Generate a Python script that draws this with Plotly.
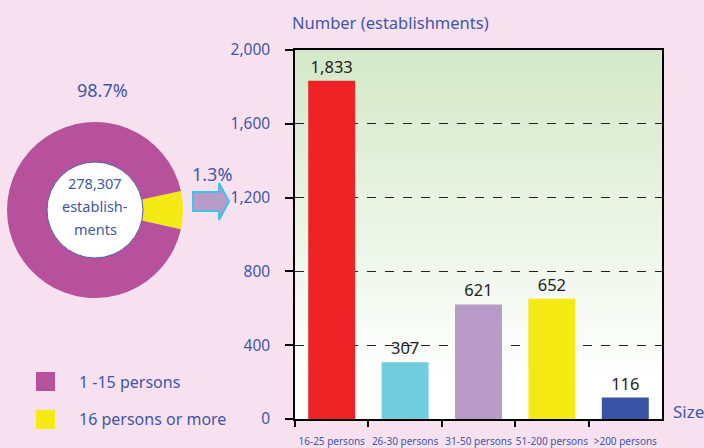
import plotly.graph_objects as go

# ---- data ----
pie_labels = ["16 persons or more", "1 -15 persons"]
pie_pct_text = ["1.3%", "98.7%"]
pie_drawn_share = [7, 93]          # slice sizes as drawn in the reference
total_text = ["278,307", "establish-", "ments"]

size_cats = ["16-25 persons", "26-30 persons", "31-50 persons", "51-200 persons", ">200 persons"]
size_counts = [1833, 307, 621, 652, 116]
y_ticks = [0, 400, 800, 1200, 1600, 2000]

# ---- styles ----
W, H = 704, 448
BG = "#f8e1ef"
BLUE = "#4057a6"
MAG = "#b8519c"
YEL = "#f5ea14"
bar_colors = ["#ee2326", "#70cddd", "#b99bc8", "#f5ea14", "#3852a4"]
FONT = "Noto Sans"

def px(x):
    return x / W

def py(y):
    return 1 - y / H

fig = go.Figure()

fig.add_trace(go.Pie(
    labels=pie_labels, values=pie_drawn_share, sort=False,
    direction="clockwise", rotation=77.5, hole=0.545,
    marker=dict(colors=[YEL, MAG], line=dict(width=0)),
    textinfo="none", hoverinfo="label", showlegend=False,
    domain=dict(x=[px(7), px(183)], y=[py(298), py(122)]),
))

fig.add_trace(go.Bar(
    x=size_cats, y=size_counts, marker=dict(color=bar_colors, line=dict(width=0)),
    texttemplate="%{y:,}", textposition="outside", cliponaxis=False,
    textfont=dict(size=16.5, color="#222222", family=FONT),
    showlegend=False, xaxis="x", yaxis="y",
))

shapes = []
# gradient background of bar plot area (stripes)
n = 90
top = (212, 232, 200)
for i in range(n):
    f0, f1 = i / n, (i + 1) / n
    t = max(0.0, (f0 - 0.1) / 0.9)
    c = tuple(int(round(255 + (tc - 255) * t)) for tc in top)
    shapes.append(dict(type="rect", xref="x domain", yref="y domain",
                       x0=0, x1=1, y0=f0, y1=f1 + 0.002, layer="below",
                       fillcolor="rgb(%d,%d,%d)" % c, line=dict(width=0)))

# white centre of donut
shapes.append(dict(type="circle", xref="paper", yref="paper",
                   x0=px(95 - 48), x1=px(95 + 48), y0=py(210 + 48), y1=py(210 - 48),
                   fillcolor="white", line=dict(color="#4a5aa8", width=1), layer="above"))

# arrow
pts = [(193, 192), (219, 192), (219, 183), (229, 201.5), (219, 220), (219, 211), (193, 211)]
path = "M " + " L ".join("%f,%f" % (px(x), py(y)) for x, y in pts) + " Z"
shapes.append(dict(type="path", xref="paper", yref="paper", path=path,
                   fillcolor="#b99bc8", line=dict(color="#3cc4ef", width=2), layer="above"))

# legend squares
for (y0, col) in [(372, MAG), (410, YEL)]:
    shapes.append(dict(type="rect", xref="paper", yref="paper",
                       x0=px(36), x1=px(55), y0=py(y0 + 19), y1=py(y0),
                       fillcolor=col, line=dict(width=0)))

ann = []
def add_text(txt, x, y, size=15, xanchor="center", color=BLUE):
    ann.append(dict(text=txt, x=px(x), y=py(y), xref="paper", yref="paper",
                    xanchor=xanchor, yanchor="middle", showarrow=False,
                    font=dict(size=size, color=color, family=FONT)))

add_text(pie_pct_text[1], 102, 90, 18)
add_text(pie_pct_text[0], 212, 174, 18)
for t, yy in zip(total_text, [183, 206, 229]):
    add_text(t, 95, yy, 14.5)
add_text(pie_labels[1], 77, 382, 16, "left")
add_text(pie_labels[0], 77, 419, 16, "left")
add_text("Number (establishments)", 290, 22, 16.5, "left")
add_text("Size", 671, 411, 17, "left")

fig.update_layout(
    width=W, height=H, margin=dict(l=0, r=0, t=0, b=0, autoexpand=False),
    paper_bgcolor=BG, plot_bgcolor="white",
    bargap=0.36, shapes=shapes, annotations=ann,
    font=dict(family=FONT, color=BLUE),
    xaxis=dict(domain=[px(295), px(662)], type="category", automargin=False,
               showline=True, linecolor="black", linewidth=1.5, mirror=True,
               ticks="outside", tickson="boundaries", ticklen=6, tickwidth=1.5,
               tickcolor="black", showgrid=False, ticklabelstandoff=12, tickangle=0,
               tickfont=dict(size=10, color=BLUE, family=FONT), fixedrange=True),
    yaxis=dict(domain=[py(419), py(50)], range=[0, 2000], tickvals=y_ticks,
               automargin=False,
               tickformat=",d", showline=True, linecolor="black", linewidth=1.5,
               mirror=True, ticks="outside", ticklen=8, tickwidth=1.5, tickcolor="black",
               showgrid=True, gridcolor="#222222", griddash="dash", gridwidth=1,
               zeroline=False, ticklabelstandoff=12,
               tickfont=dict(size=15.5, color=BLUE, family=FONT), fixedrange=True),
)

fig.write_html("out.html", config=dict(displayModeBar=False),
               post_script="document.body.style.margin='0';document.body.style.overflow='hidden';")
